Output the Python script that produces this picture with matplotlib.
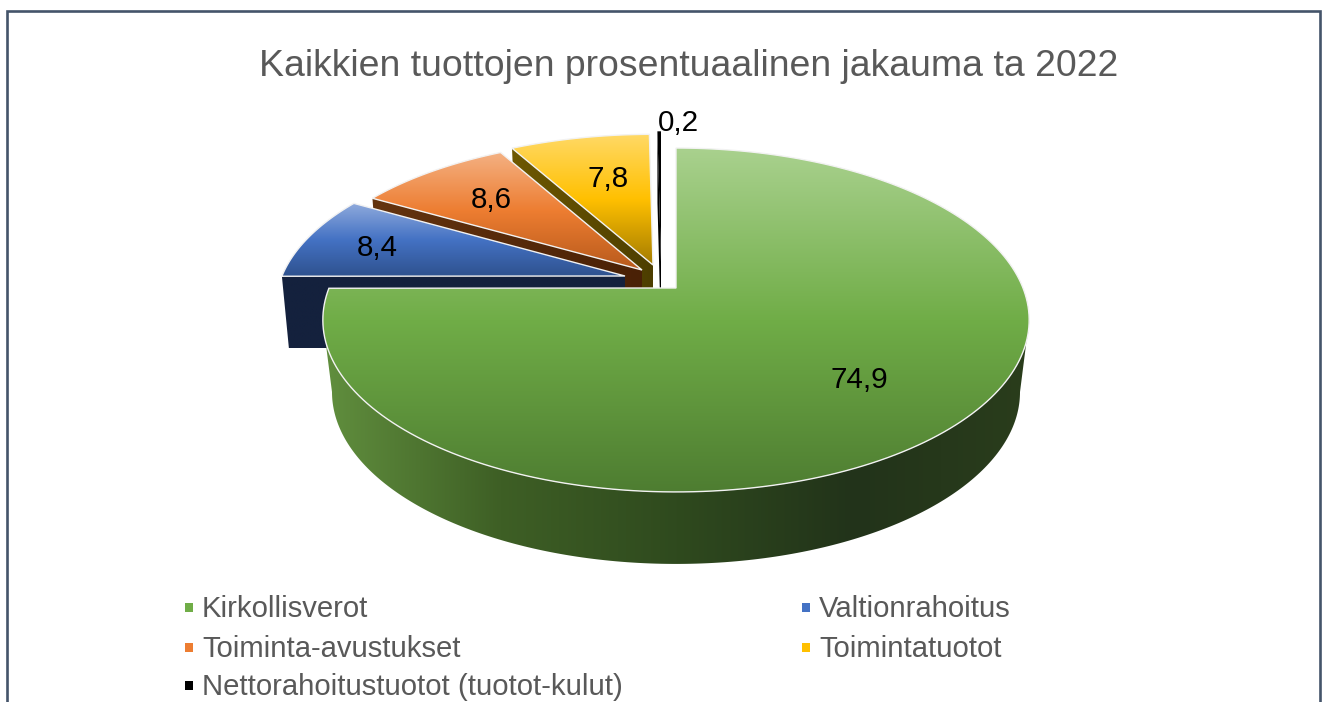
import numpy as np
import matplotlib as mpl
mpl.use('Agg')
from matplotlib import pyplot as plt
from matplotlib.colors import LinearSegmentedColormap
from matplotlib.patches import Polygon, Rectangle

# Data
title = "Kaikkien tuottojen prosentuaalinen jakauma ta 2022"
categories = ["Kirkollisverot", "Valtionrahoitus", "Toiminta-avustukset",
              "Toimintatuotot", "Nettorahoitustuotot (tuotot-kulut)"]
values = [74.9, 8.4, 8.6, 7.8, 0.2]

# Per slice look: top face gradient, wall colours, legend colour
topColors = [["#A9D18E", "#70AD47", "#4E7D31"],
             ["#8FAADC", "#4472C4", "#2F528F"],
             ["#F4B183", "#ED7D31", "#B85A1C"],
             ["#FFD966", "#FFC000", "#A47C00"],
             ["#000000", "#000000", "#000000"]]
wallColors = [["#618F3E", "#3E5F25", "#2F4A1E", "#22331A", "#2A3D1C"],
              ["#14213D", "#14213D"],
              ["#64340F", "#4A2106"],
              ["#6E5800", "#4D3E00"],
              ["#000000", "#000000"]]
legendColors = ["#70AD47", "#4472C4", "#ED7D31", "#FFC000", "#000000"]

# Screen geometry of the exploded slices (pixels), k is the perspective term
apex = [(676, 288), (625, 276), (642, 270), (653, 265), (661, 262)]
radiusX = [347, 343, 341, 340, 340]
radiusY = [166, 158, 156, 155, 155]
lowerX = [338, 336, 334, 333, 333]
k = 0.186
depth = 72

labelPos = [(859, 379), (377, 247), (491, 199), (608, 178), (678, 122)]
legendPos = [(185, 607), (802, 607), (185, 647), (802, 647), (185, 685)]
GREY = "#595959"


def rim(i, theta, lower=False):
    # angle is clockwise from 12 o'clock, in radians
    x = np.sin(theta)
    y = np.cos(theta)
    f = 1 + k*y
    if lower:
        return (apex[i][0] + lowerX[i]*x/f, apex[i][1] + depth - radiusY[i]*y/f)
    return (apex[i][0] + radiusX[i]*x/f, apex[i][1] - radiusY[i]*y/f)


def gradientFill(ax, points, colors, vertical, zorder):
    points = np.array(points)
    xMin, yMin = points.min(axis=0)
    xMax, yMax = points.max(axis=0)
    cmap = LinearSegmentedColormap.from_list("g", colors)
    ramp = np.linspace(0, 1, 256)
    ramp = ramp.reshape(-1, 1) if vertical else ramp.reshape(1, -1)
    im = ax.imshow(ramp, cmap=cmap, vmin=0, vmax=1, aspect='auto', origin='upper',
                   extent=(xMin, xMax, yMax, yMin), zorder=zorder, interpolation='bilinear')
    clip = Polygon(points, closed=True, transform=ax.transData, fc='none', ec='none')
    ax.add_patch(clip)
    im.set_clip_path(clip)


fig = plt.figure(figsize=(13.23, 7.02), dpi=100)
plt.rcParams['font.family'] = ['Liberation Sans', 'DejaVu Sans']
ax = fig.add_axes([0, 0, 1, 1])
ax.axis('off')

# Slice angles from the values
shares = np.array(values)/np.sum(values)*2*np.pi
ends = np.cumsum(shares)
starts = ends - shares

# Back to front so nearer slices cover the farther walls
z = 2
for i in [4, 3, 2, 1, 0]:
    angles = np.linspace(starts[i], ends[i], 200)
    upper = [rim(i, t) for t in angles]
    if i == 0:
        # outer wall runs between the two points where the top rim is widest
        sideA = np.arccos(-k)
        sideB = 2*np.pi - sideA
        visible = np.linspace(sideA, sideB, 200)
        wall = [rim(i, t) for t in visible] + [rim(i, t, True) for t in visible[::-1]]
    else:
        wall = [apex[i], rim(i, starts[i]), rim(i, starts[i], True),
                (apex[i][0], apex[i][1] + depth)]
    gradientFill(ax, wall, wallColors[i], False, z)
    z += 1
    face = [apex[i]] + upper
    gradientFill(ax, face, topColors[i], True, z)
    if i != 4:
        ax.add_patch(Polygon(face, closed=True, fc='none', ec="#F2F2F2", lw=1.0,
                             zorder=z + 0.5, joinstyle='miter'))
    z += 1

for i in range(len(values)):
    ax.text(labelPos[i][0], labelPos[i][1] + 1, str(values[i]).replace('.', ','), fontsize=21.3,
            color='black', ha='center', va='center', zorder=30)

ax.text(688.5, 67, title, fontsize=26.9, color=GREY, ha='center', va='center', zorder=30)

for i in range(len(categories)):
    ax.add_patch(Rectangle((legendPos[i][0], legendPos[i][1] - 4.5), 8, 9, fc=legendColors[i],
                           ec='none', zorder=30))
    ax.text(legendPos[i][0] + 17, legendPos[i][1] + 2, categories[i], fontsize=21.1, color=GREY,
            ha='left', va='center', zorder=30)

# Frame, the bottom side is cut off in the original
ax.plot([7, 7, 1319.5, 1319.5], [702, 11, 11, 702], color="#44546A", lw=1.9, zorder=40,
        solid_joinstyle='miter')

ax.set_xlim(0, 1323)
ax.set_ylim(702, 0)
fig.savefig("out.png", dpi=100, facecolor='white')
